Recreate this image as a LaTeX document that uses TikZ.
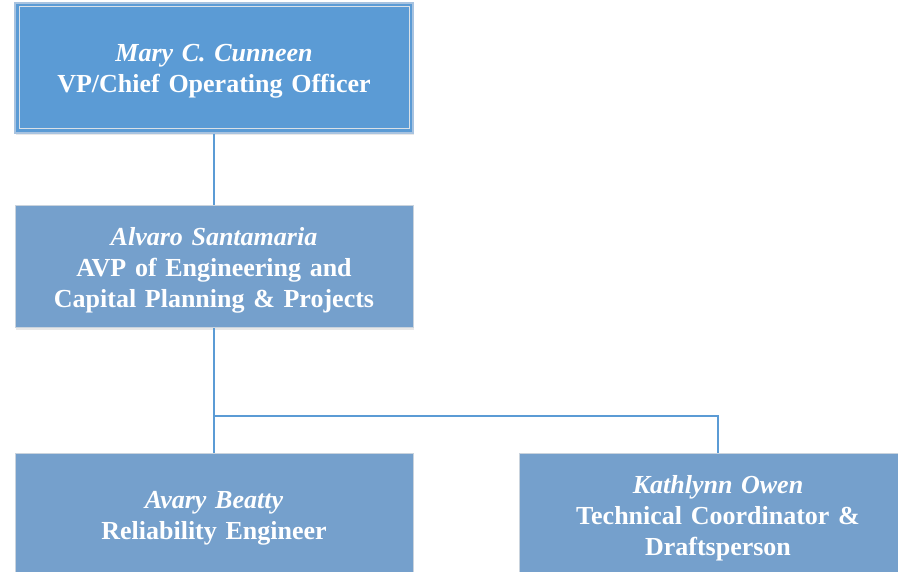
\documentclass[tikz,border=0pt]{standalone}
\usepackage{fontspec}
\setmainfont{Liberation Serif}
\usepackage{tikz}
\usetikzlibrary{positioning, shadows}
\definecolor{topblue}{HTML}{5B9BD5}
\definecolor{boxblue}{HTML}{75A0CC}
\definecolor{edgegray}{HTML}{C9D3DD}
\definecolor{frameblue}{HTML}{A8C3E0}
\definecolor{lineblue}{HTML}{5B9BD5}

\begin{document}
\begin{tikzpicture}[x=1pt, y=1pt,
	person/.style={rectangle, draw=edgegray, line width=1pt, fill=boxblue, text=white,
		minimum width=398pt, minimum height=122pt, text width=390pt, align=center,
		font=\fontsize{26}{31}\selectfont\bfseries,
		execute at end node={\endgraf\vspace*{-6pt}}, % nudge text down a bit
		drop shadow={opacity=0.18, shadow xshift=1pt, shadow yshift=-2pt}},
	chief/.style={person, fill=topblue, draw=frameblue, line width=2pt, minimum height=130pt, drop shadow={opacity=0}},
	link/.style={draw=lineblue, line width=1.5pt}]

\def \pw{898}
\def \ph{572}

\useasboundingbox (0,0) rectangle (\pw,\ph);
\clip (0,0) rectangle (\pw,\ph);

\node[chief] (coo) at (214,504) {\textit{Mary C. Cunneen}\\VP/Chief Operating Officer};
\draw[edgegray!70!white, line width=1pt] ([shift={(5pt,-5pt)}]coo.north west) rectangle ([shift={(-5pt,5pt)}]coo.south east); % inner frame

\node[person] (avp) at (214,305) {\textit{Alvaro Santamaria}\\AVP of Engineering and\\Capital Planning \& Projects};

\node[person] (beatty) at (214,57) {\textit{Avary Beatty}\\Reliability Engineer};
\node[person] (owen) at (718,57) {\textit{Kathlynn Owen}\\Technical Coordinator \&\\Draftsperson};

\coordinate (split) at (214,156);

\draw[link] (coo.south) -- (avp.north);
\draw[link] (avp.south) -- (split) -- (beatty.north);
\draw[link] (split) -| (owen.north);

\end{tikzpicture}
\end{document}
